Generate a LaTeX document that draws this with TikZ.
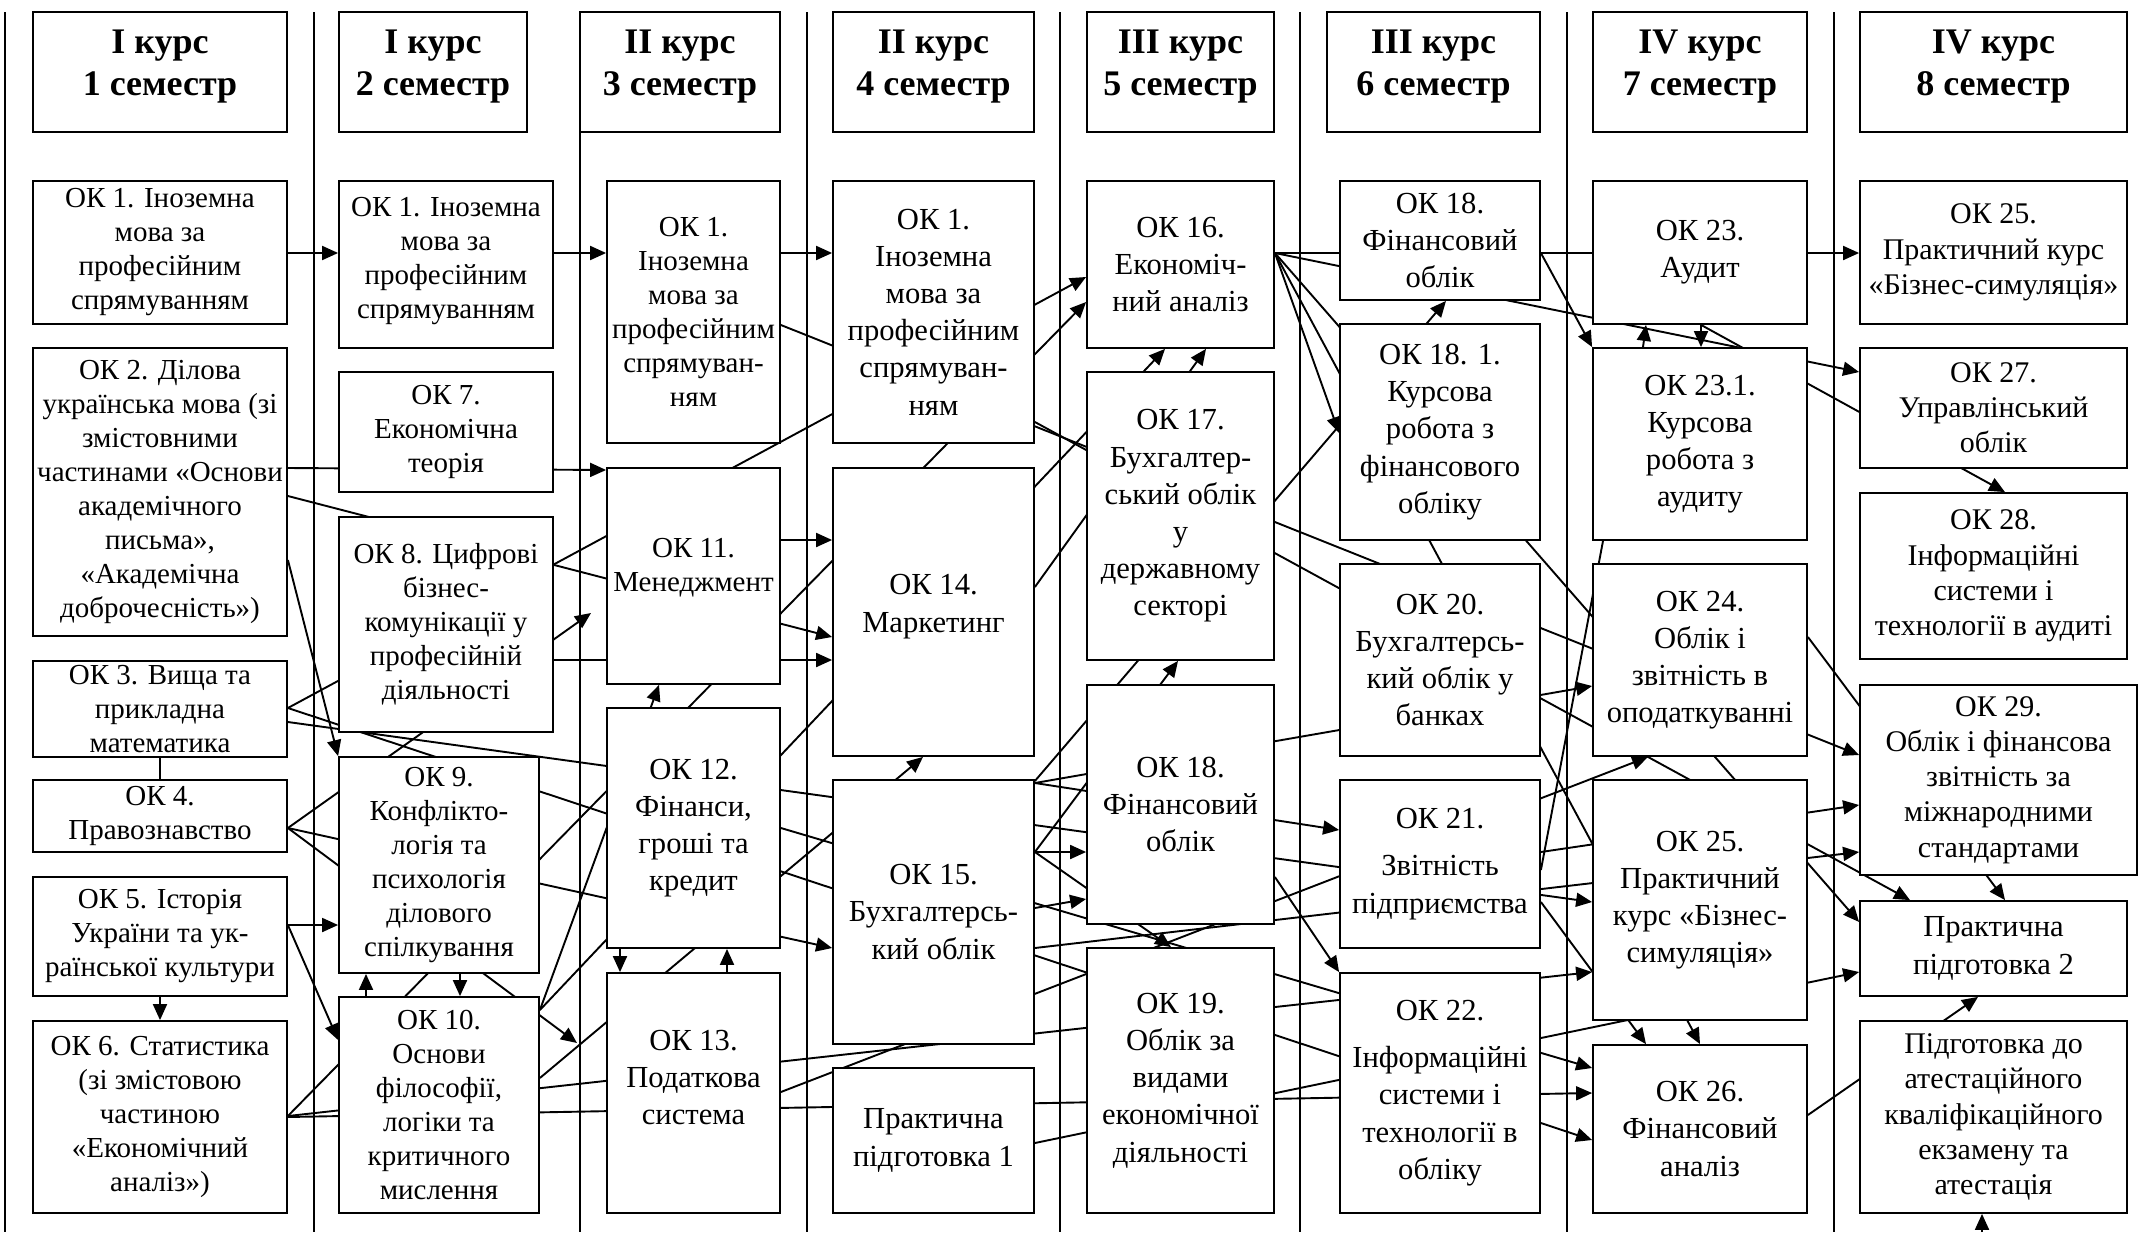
\documentclass[tikz,border=0pt]{standalone}
\usepackage{fontspec}
\setmainfont{Liberation Serif}
\usetikzlibrary{arrows.meta}
\pgfdeclarelayer{bg}
\pgfsetlayers{bg,main}

\begin{document}
\begin{tikzpicture}[x=0.5pt,y=-0.5pt,
  box/.style={draw,fill=white,line width=0.9pt,align=center,inner sep=0pt,font=\fontsize{14.5}{17}\selectfont},
  bigbox/.style={box,font=\fontsize{15.3}{18.6}\selectfont},
  lastbox/.style={box,font=\fontsize{15}{17.6}\selectfont},
  head/.style={box,font=\fontsize{18}{21}\selectfont\bfseries},
  sep/.style={line width=0.9pt},
  conn/.style={line width=0.95pt},
  arrconn/.style={conn,-{Triangle[length=8pt,width=7pt]}}]
  \useasboundingbox (0,0) rectangle (2140,1232);

  %headers
  \node[head,minimum width=127pt,minimum height=60pt] (h1) at (160,72) {I курс\\1 семестр\\[-12pt]};
  \node[head,minimum width=94pt,minimum height=60pt] (h2) at (433,72) {I курс\\2 семестр\\[-12pt]};
  \node[head,minimum width=100pt,minimum height=60pt] (h3) at (680,72) {II курс\\3 семестр\\[-12pt]};
  \node[head,minimum width=100.5pt,minimum height=60pt] (h4) at (933.5,72) {II курс\\4 семестр\\[-12pt]};
  \node[head,minimum width=93.5pt,minimum height=60pt] (h5) at (1180.5,72) {III курс\\5 семестр\\[-12pt]};
  \node[head,minimum width=106.5pt,minimum height=60pt] (h6) at (1433.5,72) {III курс\\6 семестр\\[-12pt]};
  \node[head,minimum width=107pt,minimum height=60pt] (h7) at (1700,72) {IV курс\\7 семестр\\[-12pt]};
  \node[head,minimum width=133.5pt,minimum height=60pt] (h8) at (1993.5,72) {IV курс\\8 семестр\\[-12pt]};

  %1 semester
  \node[box,minimum width=127pt,minimum height=71.5pt] (ok1a) at (160,252.5) {ОК 1. Іноземна\\мова за\\професійним\\спрямуванням};
  \node[box,minimum width=127pt,minimum height=144pt] (ok2) at (160,492) {ОК 2. Ділова\\українська мова (зі\\змістовними\\частинами «Основи\\академічного\\письма»,\\«Академічна\\доброчесність»)};
  \node[box,minimum width=127pt,minimum height=48pt] (ok3) at (160,709) {ОК 3. Вища та\\прикладна\\математика};
  \node[box,minimum width=127pt,minimum height=36pt] (ok4) at (160,816) {ОК 4.\\Правознавство};
  \node[box,minimum width=127pt,minimum height=59.5pt] (ok5) at (160,936.5) {ОК 5. Історія\\України та ук-\\раїнської культури};
  \node[box,minimum width=127pt,minimum height=96pt] (ok6) at (160,1117) {ОК 6. Статистика\\(зі змістовою\\частиною\\«Економічний\\аналіз»)};

  %2 semester
  \node[box,minimum width=107pt,minimum height=83.5pt] (ok1b) at (446,264.5) {ОК 1. Іноземна\\мова за\\професійним\\спрямуванням\\[-10pt]};
  \node[box,minimum width=107pt,minimum height=60pt] (ok7) at (446,432) {ОК 7.\\Економічна\\теорія};
  \node[box,minimum width=107pt,minimum height=107.5pt] (ok8) at (446,624.5) {ОК 8. Цифрові\\бізнес-\\комунікації у\\професійній\\діяльності};
  \node[box,minimum width=100pt,minimum height=108pt] (ok9) at (439,865) {ОК 9.\\Конфлікто-\\логія та\\психологія\\ділового\\спілкування};
  \node[box,minimum width=100pt,minimum height=108pt] (ok10) at (439,1105) {ОК 10.\\Основи\\філософії,\\логіки та\\критичного\\мислення};

  %3 semester
  \node[box,minimum width=86.5pt,minimum height=131pt] (ok1c) at (693.5,312) {ОК 1.\\Іноземна\\мова за\\професійним\\спрямуван-\\ням};
  \node[box,minimum width=86.5pt,minimum height=108pt] (ok11) at (693.5,576) {ОК 11.\\Менеджмент\\[-6pt]};
  \node[bigbox,minimum width=86.5pt,minimum height=120pt] (ok12) at (693.5,828) {ОК 12.\\Фінанси,\\гроші та\\кредит};
  \node[bigbox,minimum width=86.5pt,minimum height=120pt] (ok13) at (693.5,1093) {ОК 13.\\Податкова\\система\\[-3pt]};

  %4 semester
  \node[bigbox,minimum width=100.5pt,minimum height=131pt] (ok1d) at (933.5,312) {ОК 1.\\Іноземна\\мова за\\професійним\\спрямуван-\\ням};
  \node[bigbox,minimum width=100.5pt,minimum height=144pt] (ok14) at (933.5,612) {ОК 14.\\Маркетинг\\[-10pt]};
  \node[bigbox,minimum width=100.5pt,minimum height=132pt] (ok15) at (933.5,912) {ОК 15.\\Бухгалтерсь-\\кий облік};
  \node[bigbox,minimum width=100.5pt,minimum height=72.5pt] (pp1) at (933.5,1140.5) {Практична\\підготовка 1};

  %5 semester
  \node[bigbox,minimum width=93.5pt,minimum height=83.5pt] (ok16) at (1180.5,264.5) {ОК 16.\\Економіч-\\ний аналіз};
  \node[bigbox,minimum width=93.5pt,minimum height=144pt] (ok17) at (1180.5,516) {ОК 17.\\Бухгалтер-\\ський облік\\у\\державному\\секторі};
  \node[bigbox,minimum width=93.5pt,minimum height=119.5pt] (ok18b) at (1180.5,804.5) {ОК 18.\\Фінансовий\\облік};
  \node[bigbox,minimum width=93.5pt,minimum height=132.5pt] (ok19) at (1180.5,1080.5) {ОК 19.\\Облік за\\видами\\економічної\\діяльності};

  %6 semester
  \node[bigbox,minimum width=100pt,minimum height=59.5pt] (ok18a) at (1440,240.5) {ОК 18.\\Фінансовий\\облік};
  \node[bigbox,minimum width=100pt,minimum height=108pt] (ok181) at (1440,432) {ОК 18. 1.\\Курсова\\робота з\\фінансового\\обліку};
  \node[bigbox,minimum width=100pt,minimum height=96pt] (ok20) at (1440,660) {ОК 20.\\Бухгалтерсь-\\кий облік у\\банках};
  \node[bigbox,minimum width=100pt,minimum height=84pt] (ok21) at (1440,864) {ОК 21.\\[5pt]Звітність\\підприємства};
  \node[bigbox,minimum width=100pt,minimum height=120pt] (ok22) at (1440,1093) {ОК 22.\\[5pt]Інформаційні\\системи і\\технології в\\обліку};

  %7 semester
  \node[bigbox,minimum width=107pt,minimum height=71.5pt] (ok23) at (1700,252.5) {ОК 23.\\Аудит};
  \node[bigbox,minimum width=107pt,minimum height=96pt] (ok231) at (1700,444) {ОК 23.1.\\Курсова\\робота з\\аудиту};
  \node[bigbox,minimum width=107pt,minimum height=96pt] (ok24) at (1700,660) {ОК 24.\\Облік і\\звітність в\\оподаткуванні};
  \node[bigbox,minimum width=107pt,minimum height=120pt] (ok25b) at (1700,900) {ОК 25.\\Практичний\\курс «Бізнес-\\симуляція»};
  \node[bigbox,minimum width=107pt,minimum height=84pt] (ok26) at (1700,1129) {ОК 26.\\Фінансовий\\аналіз};

  %8 semester
  \node[lastbox,minimum width=133.5pt,minimum height=71.5pt] (ok25) at (1993.5,252.5) {ОК 25.\\Практичний курс\\«Бізнес-симуляція»};
  \node[lastbox,minimum width=133.5pt,minimum height=60pt] (ok27) at (1993.5,408) {ОК 27.\\Управлінський\\облік};
  \node[lastbox,minimum width=133.5pt,minimum height=83pt] (ok28) at (1993.5,576) {ОК 28.\\Інформаційні\\системи і\\технології в аудиті};
  \node[lastbox,minimum width=138.5pt,minimum height=95pt] (ok29) at (1998.5,780) {ОК 29.\\Облік і фінансова\\звітність за\\міжнародними\\стандартами};
  \node[bigbox,minimum width=133.5pt,minimum height=47.5pt] (pp2) at (1993.5,948.5) {Практична\\підготовка 2};
  \node[lastbox,minimum width=133.5pt,minimum height=96pt] (att) at (1993.5,1117) {Підготовка до\\атестаційного\\кваліфікаційного\\екзамену та\\атестація};

  \begin{pgfonlayer}{bg}
  %column separators
  \draw[sep] (5,12) -- (5,1232);
  \draw[sep] (314,12) -- (314,1232);
  \draw[sep] (580,12) -- (580,1232);
  \draw[sep] (807,12) -- (807,1232);
  \draw[sep] (1060,12) -- (1060,1232);
  \draw[sep] (1300,12) -- (1300,1232);
  \draw[sep] (1567,12) -- (1567,1232);
  \draw[sep] (1834,12) -- (1834,1232);

  %from 1 semester
  \draw[arrconn] (ok1a.east |- 0,253) -- (ok1b.west |- 0,253);
  \draw[arrconn] (ok2.east |- 0,468) -- (ok11.west |- 0,470);
  \draw[arrconn] (ok2.east |- 0,496) -- (ok14.west |- 0,637);
  \draw[arrconn] (ok2.east |- 0,560) -- (ok9.north west);
  \draw[arrconn] (ok3.east |- 0,708) -- (ok16.west |- 0,277);
  \draw[arrconn] (ok3.east |- 0,708) -- (ok26.west |- 0,1140);
  \draw[arrconn] (ok3.east |- 0,722) -- (ok25b.west |- 0,902);
  \draw[conn] (ok3.south) -- (ok4.north);
  \coordinate (t11) at (591,613);
  \coordinate (t13) at (577,1043);
  \draw[arrconn] (ok4.east |- 0,828) -- (t11);
  \draw[arrconn] (ok4.east |- 0,828) -- (ok15.west |- 0,948);
  \draw[arrconn] (ok4.east |- 0,828) -- (t13);
  \draw[arrconn] (ok5.east |- 0,925) -- (ok9.west |- 0,925);
  \draw[arrconn] (ok5.east |- 0,925) -- (ok10.west |- 0,1040);
  \draw[arrconn] (ok5.south) -- (ok6.north);
  \draw[arrconn] (ok6.east |- 0,1116) -- (ok16.west |- 0,302);
  \draw[arrconn] (ok6.east |- 0,1116) -- (ok25b.west |- 0,972);
  \draw[arrconn] (ok6.east |- 0,1117) -- (ok26.west |- 0,1093);

  %from 2 semester
  \draw[arrconn] (ok1b.east |- 0,253) -- (ok1c.west |- 0,253);
  \draw[arrconn] (ok8.east |- 0,660) -- (ok14.west |- 0,660);
  \draw[arrconn] (ok10.north -| 366,0) -- (ok9.south -| 366,0);
  \draw[arrconn] (ok9.south -| 460,0) -- (ok10.north -| 460,0);
  \draw[arrconn] (ok10.east |- 0,1078) -- (ok14.south -| 923,0);
  \draw[arrconn] (ok10.east |- 0,1010) -- (ok11.south -| 659,0);
  \draw[arrconn] (ok10.east |- 0,1010) -- (ok16.south -| 1165,0);

  %from 3 semester
  \draw[arrconn] (ok1c.east |- 0,253) -- (ok1d.west |- 0,253);
  \draw[arrconn] (ok1c.east |- 0,325) -- (ok29.west |- 0,755);
  \draw[arrconn] (ok11.east |- 0,540) -- (ok14.west |- 0,540);
  \draw[arrconn] (ok12.south -| 620,0) -- (ok13.north -| 620,0);
  \draw[arrconn] (ok13.north -| 727,0) -- (ok12.south -| 727,0);
  \draw[arrconn] (ok12.east |- 0,828) -- (ok26.west |- 0,1068);
  \draw[arrconn] (ok13.east |- 0,1092) -- (ok24.south -| 1648,0);

  %from 4 semester
  \draw[arrconn] (ok1d.east |- 0,422) -- (pp2.north -| 1910,0);
  \draw[arrconn] (ok14.east |- 0,587) -- (ok16.south -| 1206,0);
  \draw[arrconn] (ok15.east |- 0,781) -- (ok18a.south -| 1446,0);
  \draw[arrconn] (ok15.east |- 0,783) -- (ok24.west |- 0,686);
  \draw[arrconn] (ok15.east |- 0,783) -- (ok21.west |- 0,830);
  \draw[arrconn] (ok15.east |- 0,852) -- (ok18b.west |- 0,852);
  \draw[arrconn] (ok15.east |- 0,852) -- (ok17.south -| 1178,0);
  \draw[arrconn] (ok15.east |- 0,852) -- (ok19.north -| 1171,0);
  \draw[arrconn] (ok15.east |- 0,908) -- (ok18b.west |- 0,899);
  \draw[arrconn] (ok15.east |- 0,948) -- (ok29.west |- 0,852);
  \draw[arrconn] (pp1.east |- 0,1143) -- (pp2.west |- 0,972);

  %from 5 semester
  \draw[conn] (ok16.east |- 0,253) -- (ok23.west |- 0,253);
  \draw[arrconn] (ok16.east |- 0,253) -- (ok27.west |- 0,372);
  \draw[arrconn] (ok16.east |- 0,253) -- (pp2.west |- 0,922);
  \draw[arrconn] (ok16.east |- 0,253) -- (ok26.north -| 1700,0);
  \draw[arrconn] (ok16.east |- 0,253) -- (ok181.west |- 0,433);
  \draw[arrconn] (ok18b.east |- 0,877) -- (ok22.north west);

  %from 6 semester
  \draw[arrconn] (ok18a.east |- 0,253) -- (ok231.north west);
  \draw[arrconn] (ok21.east |- 0,852) -- (ok29.west |- 0,805);
  \draw[arrconn] (ok21.east |- 0,902) -- (ok26.north -| 1646,0);
  \draw[conn] (ok21.east |- 0,870) -- (ok231.south -| 1603,0);

  %from 7 semester
  \draw[arrconn] (ok23.east |- 0,253) -- (ok25.west |- 0,253);
  \draw[arrconn] (ok231.north -| 1643,0) -- (ok23.south -| 1646,0);
  \draw[arrconn] (ok23.south -| 1701,0) -- (ok231.north -| 1701,0);
  \draw[arrconn] (ok23.south -| 1701,0) -- (ok28.north -| 2005,0);
  \draw[arrconn] (ok24.east |- 0,637) -- (pp2.north -| 2005,0);
  \draw[arrconn] (ok26.east |- 0,1115) -- (pp2.south -| 1978,0);

  %to attestation
  \coordinate (fin) at (1982,1232);
  \draw[arrconn] (fin) -- (att.south -| 1982,0);
  \end{pgfonlayer}
\end{tikzpicture}
\end{document}
